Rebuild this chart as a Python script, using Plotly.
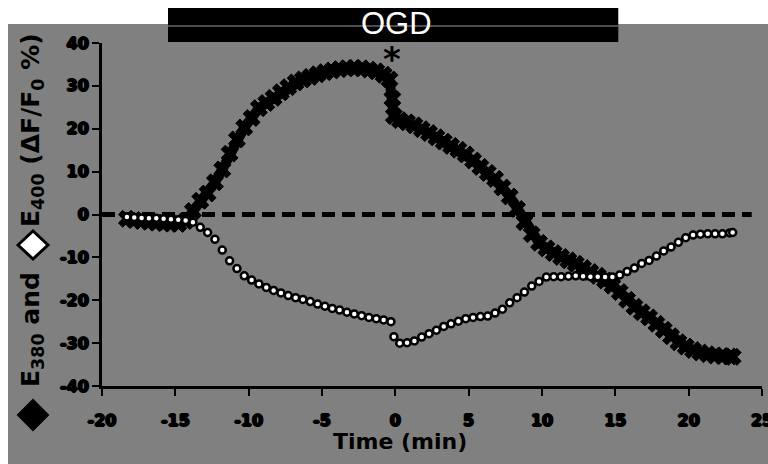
import plotly.graph_objects as go

# ---- data ----
black_x = [-18.3,-17.8,-17.3,-16.8,-16.3,-15.8,-15.3,-14.8,-14.3,-13.8,-13.3,-12.8,-12.3,-11.8,-11.3,-10.8,-10.3,-9.8,-9.3,-8.8,-8.3,-7.8,-7.3,-6.8,-6.3,-5.8,-5.3,-4.8,-4.3,-3.8,-3.3,-2.8,-2.3,-1.8,-1.3,-0.8,-0.4,-0.2,-0.1,0.3,0.8,1.3,1.8,2.3,2.8,3.3,3.8,4.3,4.8,5.3,5.8,6.3,6.8,7.3,7.8,8.3,8.8,9.3,9.8,10.3,10.8,11.3,11.8,12.3,12.8,13.3,13.8,14.3,14.8,15.3,15.8,16.3,16.8,17.3,17.8,18.3,18.8,19.3,19.8,20.3,20.8,21.3,21.8,22.3,22.8,23.0]
black_y = [-1.0,-1.3,-1.5,-1.7,-1.9,-2.0,-2.1,-2.2,-1.5,0.8,3.2,4.9,7.5,10.5,14.2,17.5,20.3,22.5,24.8,26.0,27.2,28.5,29.7,30.8,31.5,32.1,32.7,33.2,33.6,33.9,34.1,34.2,34.1,33.8,33.4,32.6,31.5,27.0,23.0,22.0,21.5,20.8,19.9,19.0,18.0,17.0,16.0,15.1,14.0,12.6,11.1,9.7,8.3,6.3,4.2,1.3,-1.8,-4.6,-6.6,-7.9,-9.0,-9.9,-10.7,-11.5,-12.5,-13.4,-14.3,-15.4,-16.6,-18.1,-19.9,-21.5,-22.8,-24.0,-25.5,-26.9,-28.4,-29.8,-30.8,-31.6,-32.2,-32.6,-32.9,-33.0,-33.1,-33.2]

white_x = [-18.3,-17.8,-17.3,-16.8,-16.3,-15.8,-15.3,-14.8,-14.3,-13.8,-13.3,-12.8,-12.3,-11.8,-11.3,-10.8,-10.3,-9.8,-9.3,-8.8,-8.3,-7.8,-7.3,-6.8,-6.3,-5.8,-5.3,-4.8,-4.3,-3.8,-3.3,-2.8,-2.3,-1.8,-1.3,-0.8,-0.3,-0.1,0.3,0.8,1.3,1.8,2.3,2.8,3.3,3.8,4.3,4.8,5.3,5.8,6.3,6.8,7.3,7.8,8.3,8.8,9.3,9.8,10.3,10.8,11.3,11.8,12.3,12.8,13.3,13.8,14.3,14.8,15.3,15.8,16.3,16.8,17.3,17.8,18.3,18.8,19.3,19.8,20.3,20.8,21.3,21.8,22.3,22.8,23.0]
white_y = [-0.6,-0.7,-0.8,-0.9,-0.9,-1.0,-1.1,-1.2,-1.4,-1.8,-3.0,-4.2,-5.8,-8.3,-10.8,-12.6,-14.3,-15.3,-16.2,-17.0,-17.7,-18.3,-18.9,-19.4,-19.8,-20.3,-20.9,-21.4,-21.9,-22.3,-22.8,-23.2,-23.6,-24.0,-24.3,-24.6,-25.0,-28.5,-30.0,-29.9,-29.5,-28.6,-27.8,-27.0,-26.1,-25.5,-24.9,-24.3,-24.0,-23.8,-23.7,-23.0,-22.1,-20.6,-19.4,-18.1,-16.7,-15.6,-14.6,-14.5,-14.5,-14.4,-14.3,-14.4,-14.5,-14.5,-14.6,-14.6,-14.1,-13.3,-12.5,-11.4,-10.7,-9.7,-8.5,-7.6,-6.5,-5.4,-4.8,-4.6,-4.5,-4.5,-4.5,-4.3,-4.2]

x_ticks = [-20, -15, -10, -5, 0, 5, 10, 15, 20, 25]
y_ticks = [-40, -30, -20, -10, 0, 10, 20, 30, 40]
x_title = "Time (min)"
bar_label = "OGD"
ogd_start, ogd_end = -15.5, 15.2

GRAY = "#808080"
FONT = "DejaVu Sans"
HEAVY = "1px 0px 0px black, -1px 0px 0px black, 0px 1px 0px black, 0px -1px 0px black"

L, R, T, B = 102, 6, 43, 78
W, H = 768, 464
PW, PH = W - L - R, H - T - B

def px(x):
    return (x - L) / PW

def py(y):
    return (H - B - y) / PH

fig = go.Figure()
fig.add_trace(go.Scatter(
    x=black_x, y=black_y, mode="lines+markers",
    line=dict(color="black", width=10),
    marker=dict(symbol="x", size=15, color="black", line=dict(color="black", width=1)),
    showlegend=False, hoverinfo="skip"))
fig.add_trace(go.Scatter(
    x=white_x, y=white_y, mode="markers",
    marker=dict(symbol="circle", size=7, color="white", line=dict(color="black", width=2.5)),
    showlegend=False, hoverinfo="skip"))

shapes = [
    dict(type="rect", xref="paper", yref="paper", x0=px(8), x1=px(768), y0=py(464), y1=py(24),
         fillcolor=GRAY, line=dict(width=0), layer="below"),
    dict(type="line", xref="x", yref="y", x0=-20, x1=24.3, y0=0, y1=0,
         line=dict(color="black", width=5, dash="13px,7px"), layer="below"),
    dict(type="rect", xref="x", yref="paper", x0=ogd_start, x1=ogd_end, y0=py(42), y1=py(8),
         fillcolor="black", line=dict(width=0), layer="above"),
    dict(type="line", xref="x", yref="paper", x0=ogd_start, x1=ogd_end, y0=py(26), y1=py(26),
         line=dict(color="#9a9a9a", width=1), layer="above"),
    # white diamond marker in y title
    dict(type="path", xref="paper", yref="paper",
         path=f"M {px(18)},{py(245)} L {px(33)},{py(231)} L {px(48)},{py(245)} L {px(33)},{py(259)} Z",
         fillcolor="white", line=dict(color="black", width=3), layer="above"),
    # black diamond marker in y title
    dict(type="path", xref="paper", yref="paper",
         path=f"M {px(18)},{py(415)} L {px(33)},{py(400)} L {px(48)},{py(415)} L {px(33)},{py(430)} Z",
         fillcolor="black", line=dict(color="black", width=2), layer="above"),
]

annotations = [
    dict(text=bar_label, xref="x", yref="paper", x=0.1, y=py(24), showarrow=False,
         xanchor="center", yanchor="middle",
         font=dict(family="Liberation Sans", size=31, color="white")),
    dict(text="<b>*</b>", xref="x", yref="y", x=-0.2, y=36.2, showarrow=False,
         xanchor="center", yanchor="middle",
         font=dict(family=FONT, size=34, color="black")),
    dict(text="<b>E<sub>400</sub> (ΔF/F<sub>0</sub> %)</b>", xref="paper", yref="paper",
         x=px(32), y=py(130), textangle=-90, showarrow=False,
         xanchor="center", yanchor="middle",
         font=dict(family=FONT, size=25, color="black")),
    dict(text="<b>E<sub>380</sub> and</b>", xref="paper", yref="paper",
         x=px(32), y=py(330), textangle=-90, showarrow=False,
         xanchor="center", yanchor="middle",
         font=dict(family=FONT, size=25, color="black")),
    dict(text=f"<b>{x_title}</b>", xref="x", yref="paper", x=0.3, y=py(441), showarrow=False,
         xanchor="center", yanchor="middle",
         font=dict(family=FONT, size=22, color="black")),
]

fig.update_layout(
    width=W, height=H, margin=dict(l=L, r=R, t=T, b=B, autoexpand=False),
    paper_bgcolor="white", plot_bgcolor=GRAY,
    shapes=shapes, annotations=annotations, showlegend=False,
    xaxis=dict(range=[-20, 25], tickvals=x_ticks, ticktext=[f"<b>{v}</b>" for v in x_ticks],
               showline=True, linecolor="black", linewidth=3, ticks="outside", ticklen=7,
               tickwidth=2, tickcolor="black", showgrid=False, zeroline=False,
               automargin=False, ticklabelstandoff=11, ticklabeloverflow="allow",
               tickfont=dict(family=FONT, size=16, color="black", shadow=HEAVY)),
    yaxis=dict(range=[-40, 40], tickvals=y_ticks, ticktext=[f"<b>{v}</b>" for v in y_ticks],
               showline=True, linecolor="black", linewidth=3, ticks="outside", ticklen=7,
               tickwidth=2, tickcolor="black", showgrid=False, zeroline=False,
               automargin=False, ticklabeloverflow="allow",
               tickfont=dict(family=FONT, size=16, color="black", shadow=HEAVY)),
)

fig.write_html("out.html")
